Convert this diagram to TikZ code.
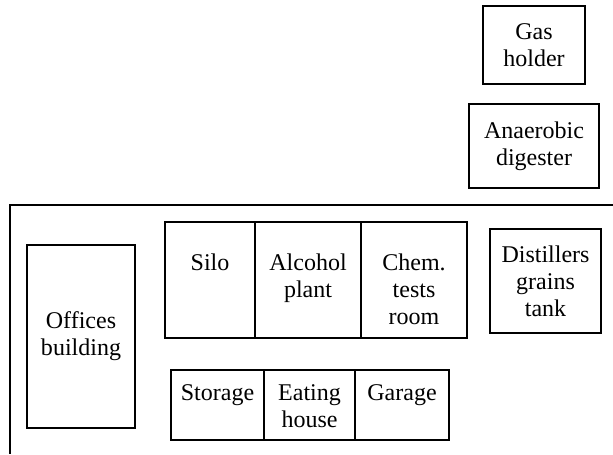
\documentclass[tikz,border=0pt]{standalone}
\usepackage{fontspec}
\setmainfont{Liberation Serif}
\usetikzlibrary{positioning}

\tikzset{
	room/.style={draw,line width=0.8pt,inner sep=0pt,outer sep=0pt,align=center},
	tag/.style={inner sep=0pt,align=center}
}

\begin{document}
\begin{tikzpicture}[x=0.5pt,y=-0.5pt,font=\fontsize{12}{13.5}\selectfont]
	\useasboundingbox (0,0) rectangle (613,454);

	% site boundary
	\draw[line width=0.8pt] (613,205) -| (10,454);

	% outside the site
	\node[room,minimum width=51pt,minimum height=39pt] (gas) at (534,45) {Gas\\holder};
	\node[room,minimum width=65pt,minimum height=42pt] (digester) at (534,146) {Anaerobic\\digester};

	% inside the site
	\node[room,minimum width=54pt,minimum height=91.5pt] (offices) at (81,336.5) {Offices\\building};
	\node[room,minimum width=55.5pt,minimum height=52pt] (distillers) at (545.5,281) {Distillers\\grains\\tank};

	\node[room,minimum width=45pt,minimum height=58pt,anchor=north west] (silo) at (165,222) {};
	\node[room,minimum width=53pt,minimum height=58pt] (alcohol) [right=0pt of silo] {};
	\node[room,minimum width=53pt,minimum height=58pt] (chem) [right=0pt of alcohol] {};
	\node[tag] (silotxt) [below=15.5pt of silo.north] {Silo};
	\node[tag] (alcoholtxt) [below=15.5pt of alcohol.north] {Alcohol\\plant};
	\node[tag] (chemtxt) [below=15.5pt of chem.north] {Chem.\\tests\\room};

	\node[room,minimum width=46.5pt,minimum height=35pt,anchor=north west] (storage) at (171,370) {};
	\node[room,minimum width=45.5pt,minimum height=35pt] (eating) [right=0pt of storage] {};
	\node[room,minimum width=47pt,minimum height=35pt] (garage) [right=0pt of eating] {};
	\node[tag] (storagetxt) [below=7pt of storage.north] {Storage};
	\node[tag] (eatingtxt) [below=7pt of eating.north] {Eating\\house};
	\node[tag] (garagetxt) [below=7pt of garage.north] {Garage};
\end{tikzpicture}
\end{document}
